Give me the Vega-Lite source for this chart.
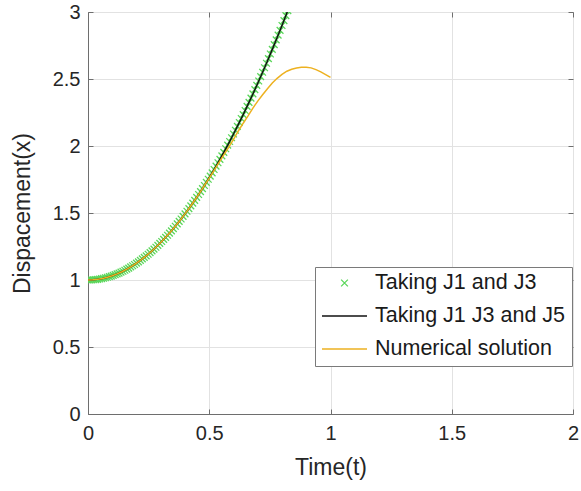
{
  "$schema": "https://vega.github.io/schema/vega-lite/v6.json",
  "width": 485,
  "height": 402,
  "autosize": {"type": "none"},
  "padding": {"left": 88, "top": 12, "right": 8, "bottom": 77},
  "background": "white",
  "config": {
    "font": "Liberation Sans",
    "view": {"stroke": "#6e6e6e", "strokeWidth": 1},
    "axis": {
      "domainColor": "#6e6e6e",
      "tickColor": "#6e6e6e",
      "tickSize": -5,
      "gridColor": "#e2e2e2",
      "gridWidth": 1,
      "labelFontSize": 20,
      "labelColor": "#262626",
      "titleFontSize": 23,
      "titleFontWeight": "normal",
      "titleColor": "#262626",
      "labelFlush": false,
      "labelOverlap": false
    },
    "legend": {
      "orient": "none",
      "legendX": 227,
      "legendY": 255,
      "padding": 6,
      "strokeColor": "#7a7a7a",
      "fillColor": "white",
      "cornerRadius": 0,
      "labelFontSize": 21.5,
      "labelColor": "#1a1a1a",
      "labelLimit": 400,
      "symbolSize": 2025,
      "symbolStrokeWidth": 1.3,
      "symbolFillColor": "transparent",
      "clipHeight": 20,
      "rowPadding": 11,
      "labelOffset": 7,
      "symbolOffset": 0
    }
  },
  "datasets": {
    "j13": [
      {"t": 0, "x": 1.0}, {"t": 0.008, "x": 1.0002}, {"t": 0.016, "x": 1.0008}, {"t": 0.024, "x": 1.0018},
      {"t": 0.032, "x": 1.0033}, {"t": 0.04, "x": 1.0051}, {"t": 0.048, "x": 1.0073}, {"t": 0.056, "x": 1.01},
      {"t": 0.064, "x": 1.013}, {"t": 0.072, "x": 1.0165}, {"t": 0.08, "x": 1.0203}, {"t": 0.088, "x": 1.0246},
      {"t": 0.096, "x": 1.0292}, {"t": 0.104, "x": 1.0343}, {"t": 0.112, "x": 1.0397}, {"t": 0.12, "x": 1.0456},
      {"t": 0.128, "x": 1.0518}, {"t": 0.136, "x": 1.0585}, {"t": 0.144, "x": 1.0655}, {"t": 0.152, "x": 1.0729},
      {"t": 0.16, "x": 1.0807}, {"t": 0.168, "x": 1.0889}, {"t": 0.176, "x": 1.0975}, {"t": 0.184, "x": 1.1065},
      {"t": 0.192, "x": 1.1159}, {"t": 0.2, "x": 1.1257}, {"t": 0.208, "x": 1.1358}, {"t": 0.216, "x": 1.1464},
      {"t": 0.224, "x": 1.1573}, {"t": 0.232, "x": 1.1686}, {"t": 0.24, "x": 1.1803}, {"t": 0.248, "x": 1.1924},
      {"t": 0.256, "x": 1.2049}, {"t": 0.264, "x": 1.2177}, {"t": 0.272, "x": 1.2309}, {"t": 0.28, "x": 1.2445},
      {"t": 0.288, "x": 1.2585}, {"t": 0.296, "x": 1.2729}, {"t": 0.304, "x": 1.2876}, {"t": 0.312, "x": 1.3027},
      {"t": 0.32, "x": 1.3182}, {"t": 0.328, "x": 1.334}, {"t": 0.336, "x": 1.3503}, {"t": 0.344, "x": 1.3669},
      {"t": 0.352, "x": 1.3838}, {"t": 0.36, "x": 1.4012}, {"t": 0.368, "x": 1.4189}, {"t": 0.376, "x": 1.437},
      {"t": 0.384, "x": 1.4554}, {"t": 0.392, "x": 1.4743}, {"t": 0.4, "x": 1.4934}, {"t": 0.408, "x": 1.513},
      {"t": 0.416, "x": 1.5329}, {"t": 0.424, "x": 1.5532}, {"t": 0.432, "x": 1.5738}, {"t": 0.44, "x": 1.5948},
      {"t": 0.448, "x": 1.6162}, {"t": 0.456, "x": 1.6379}, {"t": 0.464, "x": 1.66}, {"t": 0.472, "x": 1.6824},
      {"t": 0.48, "x": 1.7052}, {"t": 0.488, "x": 1.7284}, {"t": 0.496, "x": 1.7519}, {"t": 0.504, "x": 1.7757},
      {"t": 0.512, "x": 1.7999}, {"t": 0.52, "x": 1.8245}, {"t": 0.528, "x": 1.8494}, {"t": 0.536, "x": 1.8747},
      {"t": 0.544, "x": 1.9003}, {"t": 0.552, "x": 1.9263}, {"t": 0.56, "x": 1.9526}, {"t": 0.568, "x": 1.9793},
      {"t": 0.576, "x": 2.0063}, {"t": 0.584, "x": 2.0336}, {"t": 0.592, "x": 2.0613}, {"t": 0.6, "x": 2.0894},
      {"t": 0.608, "x": 2.1177}, {"t": 0.616, "x": 2.1465}, {"t": 0.624, "x": 2.1755}, {"t": 0.632, "x": 2.205},
      {"t": 0.64, "x": 2.2347}, {"t": 0.648, "x": 2.2648}, {"t": 0.656, "x": 2.2952}, {"t": 0.664, "x": 2.326},
      {"t": 0.672, "x": 2.3571}, {"t": 0.68, "x": 2.3885}, {"t": 0.688, "x": 2.4203}, {"t": 0.696, "x": 2.4524},
      {"t": 0.704, "x": 2.4848}, {"t": 0.712, "x": 2.5176}, {"t": 0.72, "x": 2.5506}, {"t": 0.728, "x": 2.5841},
      {"t": 0.736, "x": 2.6178}, {"t": 0.744, "x": 2.6519}, {"t": 0.752, "x": 2.6863}, {"t": 0.76, "x": 2.721},
      {"t": 0.768, "x": 2.7561}, {"t": 0.776, "x": 2.7915}, {"t": 0.784, "x": 2.8272}, {"t": 0.792, "x": 2.8632},
      {"t": 0.8, "x": 2.8995}, {"t": 0.808, "x": 2.9362}, {"t": 0.816, "x": 2.9732}, {"t": 0.824, "x": 3.0105}
    ],
    "j135": [
      {"t": 0, "x": 1.0}, {"t": 0.02, "x": 1.0013}, {"t": 0.04, "x": 1.005}, {"t": 0.06, "x": 1.0115},
      {"t": 0.08, "x": 1.0203}, {"t": 0.1, "x": 1.0317}, {"t": 0.12, "x": 1.0456}, {"t": 0.14, "x": 1.0619},
      {"t": 0.16, "x": 1.0807}, {"t": 0.18, "x": 1.102}, {"t": 0.2, "x": 1.1257}, {"t": 0.22, "x": 1.1518},
      {"t": 0.24, "x": 1.1803}, {"t": 0.26, "x": 1.2112}, {"t": 0.28, "x": 1.2445}, {"t": 0.3, "x": 1.2802},
      {"t": 0.32, "x": 1.3182}, {"t": 0.34, "x": 1.3585}, {"t": 0.36, "x": 1.4012}, {"t": 0.38, "x": 1.4462},
      {"t": 0.4, "x": 1.4934}, {"t": 0.42, "x": 1.543}, {"t": 0.44, "x": 1.5948}, {"t": 0.46, "x": 1.6489},
      {"t": 0.48, "x": 1.7052}, {"t": 0.5, "x": 1.7638}, {"t": 0.52, "x": 1.8245}, {"t": 0.54, "x": 1.8875},
      {"t": 0.56, "x": 1.9526}, {"t": 0.58, "x": 2.0199}, {"t": 0.6, "x": 2.0894}, {"t": 0.62, "x": 2.161},
      {"t": 0.64, "x": 2.2347}, {"t": 0.66, "x": 2.3105}, {"t": 0.68, "x": 2.3885}, {"t": 0.7, "x": 2.4685},
      {"t": 0.72, "x": 2.5506}, {"t": 0.74, "x": 2.6348}, {"t": 0.76, "x": 2.721}, {"t": 0.78, "x": 2.8093},
      {"t": 0.8, "x": 2.8995}, {"t": 0.82, "x": 2.9918}, {"t": 0.84, "x": 3.086}
    ],
    "numerical": [
      {"t": 0, "x": 1.0}, {"t": 0.02, "x": 1.0013}, {"t": 0.04, "x": 1.005}, {"t": 0.06, "x": 1.0115},
      {"t": 0.08, "x": 1.0203}, {"t": 0.1, "x": 1.0317}, {"t": 0.12, "x": 1.0456}, {"t": 0.14, "x": 1.0619},
      {"t": 0.16, "x": 1.0807}, {"t": 0.18, "x": 1.102}, {"t": 0.2, "x": 1.1257}, {"t": 0.22, "x": 1.1518},
      {"t": 0.24, "x": 1.1803}, {"t": 0.26, "x": 1.2112}, {"t": 0.28, "x": 1.2445}, {"t": 0.3, "x": 1.2802},
      {"t": 0.32, "x": 1.3182}, {"t": 0.34, "x": 1.3585}, {"t": 0.36, "x": 1.4012}, {"t": 0.38, "x": 1.4462},
      {"t": 0.4, "x": 1.4934}, {"t": 0.42, "x": 1.543}, {"t": 0.44, "x": 1.5948}, {"t": 0.46, "x": 1.6489},
      {"t": 0.48, "x": 1.705}, {"t": 0.5, "x": 1.76}, {"t": 0.52, "x": 1.818}, {"t": 0.54, "x": 1.876},
      {"t": 0.56, "x": 1.934}, {"t": 0.58, "x": 1.99}, {"t": 0.6, "x": 2.05}, {"t": 0.62, "x": 2.112},
      {"t": 0.64, "x": 2.17}, {"t": 0.66, "x": 2.225}, {"t": 0.68, "x": 2.283}, {"t": 0.7, "x": 2.335},
      {"t": 0.72, "x": 2.382}, {"t": 0.74, "x": 2.427}, {"t": 0.76, "x": 2.47}, {"t": 0.78, "x": 2.505},
      {"t": 0.8, "x": 2.535}, {"t": 0.82, "x": 2.558}, {"t": 0.84, "x": 2.573}, {"t": 0.86, "x": 2.582},
      {"t": 0.88, "x": 2.587}, {"t": 0.9, "x": 2.588}, {"t": 0.92, "x": 2.583}, {"t": 0.94, "x": 2.57},
      {"t": 0.96, "x": 2.553}, {"t": 0.98, "x": 2.533}, {"t": 1.0, "x": 2.512}
    ]
  },
  "resolve": {"axis": {"x": "independent", "y": "independent"}},
  "layer": [
    {
      "data": {"name": "j13"},
      "mark": {"type": "point", "filled": false, "opacity": 1, "size": 2025, "strokeWidth": 1.3, "clip": true},
      "encoding": {
        "x": {"field": "t", "type": "quantitative",
              "scale": {"domain": [0, 2], "nice": false, "zero": false},
              "axis": {"title": "Time(t)", "values": [0, 0.5, 1, 1.5, 2], "format": "~g", "grid": true, "labelPadding": 14, "titlePadding": 13}},
        "y": {"field": "x", "type": "quantitative",
              "scale": {"domain": [0, 3], "nice": false, "zero": false},
              "axis": {"title": "Dispacement(x)", "values": [0, 0.5, 1, 1.5, 2, 2.5, 3], "format": "~g", "grid": true, "labelPadding": 13, "titlePadding": 18}},
        "color": {"datum": "Taking J1 and J3", "type": "nominal",
                  "scale": {"domain": ["Taking J1 and J3", "Taking J1 J3 and J5", "Numerical solution"], "range": ["#5ad65a", "#111111", "#EDB120"]},
                  "legend": {"title": null}},
        "shape": {"datum": "Taking J1 and J3", "type": "nominal",
                  "scale": {"domain": ["Taking J1 and J3", "Taking J1 J3 and J5", "Numerical solution"],
                            "range": ["M-0.15,-0.15L0.15,0.15M-0.15,0.15L0.15,-0.15", "M-1,0L1,0", "M-1,0L1,0"]},
                  "legend": {"title": null}}
      }
    },
    {
      "data": {"name": "j135"},
      "mark": {"type": "line", "strokeWidth": 1.5, "clip": true},
      "encoding": {
        "x": {"field": "t", "type": "quantitative", "axis": null},
        "y": {"field": "x", "type": "quantitative", "axis": null},
        "color": {"datum": "Taking J1 J3 and J5", "type": "nominal"}
      }
    },
    {
      "data": {"name": "numerical"},
      "mark": {"type": "line", "strokeWidth": 1.5, "clip": true},
      "encoding": {
        "x": {"field": "t", "type": "quantitative",
              "axis": {"orient": "top", "values": [0, 0.5, 1, 1.5, 2], "labels": false, "title": null, "grid": false, "domain": false}},
        "y": {"field": "x", "type": "quantitative",
              "axis": {"orient": "right", "values": [0, 0.5, 1, 1.5, 2, 2.5, 3], "labels": false, "title": null, "grid": false, "domain": false}},
        "color": {"datum": "Numerical solution", "type": "nominal"}
      }
    }
  ]
}
